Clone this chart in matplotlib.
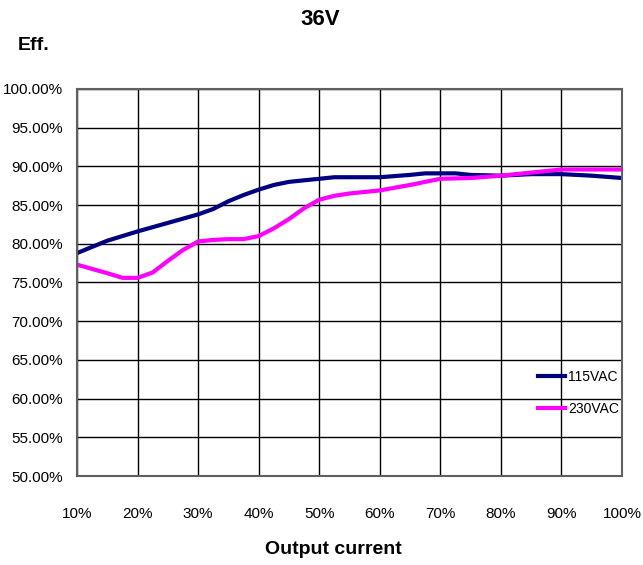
import matplotlib
matplotlib.use("Agg")
import matplotlib.pyplot as plt
from matplotlib.ticker import FuncFormatter, MultipleLocator

plt.rcParams['font.family'] = ['Liberation Sans', 'DejaVu Sans']

# efficiency readings (%), load in % of rated output current
load_115 = [10, 15, 20, 25, 30, 32.5, 35, 37.5, 40, 42.5, 45, 50, 52.5, 60,
            65, 67.5, 72.5, 75, 80, 85, 90, 95, 100]
eff_115 = [78.8, 80.4, 81.6, 82.7, 83.8, 84.5, 85.5, 86.3, 87.0, 87.6, 88.0, 88.4,
           88.6, 88.6, 88.9, 89.1, 89.1, 88.9, 88.8, 89.0, 89.0, 88.8, 88.5]

load_230 = [10, 15, 17.5, 20, 22.5, 25, 27.5, 30, 32.5, 35, 37.5, 40, 42.5, 45,
            47.5, 50, 52.5, 55, 60, 65, 70, 75, 80, 85, 90, 95, 100]
eff_230 = [77.3, 76.2, 75.6, 75.6, 76.3, 77.8, 79.2, 80.3, 80.5, 80.6, 80.6, 81.0,
           82.0, 83.2, 84.6, 85.7, 86.2, 86.5, 86.9, 87.6, 88.4, 88.5, 88.8, 89.2,
           89.6, 89.6, 89.6]

fig = plt.figure(figsize=(6.43, 5.65), dpi=100)
ax = fig.add_axes([0.1198, 0.1575, 0.8475, 0.685])

ax.plot(load_115, eff_115, color='#000080', lw=3, label='115VAC')
ax.plot(load_230, eff_230, color='#ff00ff', lw=3, label='230VAC')

ax.set_xlim(10, 100)
ax.set_ylim(50, 100)
ax.xaxis.set_major_locator(MultipleLocator(10))
ax.yaxis.set_major_locator(MultipleLocator(5))
ax.xaxis.set_major_formatter(FuncFormatter(lambda v, p: f"{v:.0f}%"))
ax.yaxis.set_major_formatter(FuncFormatter(lambda v, p: f"{v:.2f}%"))
ax.grid(True, color='black', lw=1)
ax.tick_params(length=0, labelsize=11)
ax.tick_params(axis='x', pad=22)
ax.tick_params(axis='y', pad=10)
for s in ax.spines.values():
    s.set_color('#606060')
    s.set_linewidth(1.5)

leg = ax.legend(loc='center left', bbox_to_anchor=(0.845, 0.214), frameon=False,
                fontsize=10, handlelength=2.0, handletextpad=0.2, labelspacing=1.3,
                borderpad=0, borderaxespad=0)

fig.text(0.498, 0.965, '36V', ha='center', va='center', fontsize=16, fontweight='bold')
fig.text(0.028, 0.92, 'Eff.', ha='left', va='center', fontsize=14, fontweight='bold')
fig.text(0.518, 0.027, 'Output current', ha='center', va='center', fontsize=14, fontweight='bold')

fig.savefig('out.png', dpi=100)
